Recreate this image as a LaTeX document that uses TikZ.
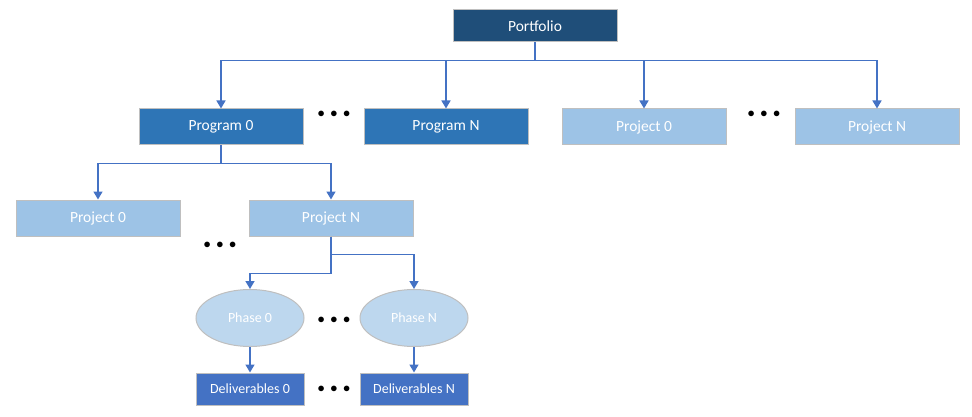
\documentclass[tikz,border=0pt]{standalone}
\usepackage{fontspec}
\setmainfont{Carlito}
\usetikzlibrary{arrows.meta,shapes.geometric}
\definecolor{portblue}{HTML}{1F4E79}
\definecolor{progblue}{HTML}{2E75B6}
\definecolor{projblue}{HTML}{9DC3E6}
\definecolor{phaseblue}{HTML}{BDD7EE}
\definecolor{delivblue}{HTML}{4472C4}
\definecolor{edgegray}{HTML}{BFBFBF}
\definecolor{linkblue}{HTML}{4472C4}
\tikzset{
  box/.style={draw=edgegray, line width=1pt, text=white, inner sep=0pt,
    minimum width=164pt, minimum height=36pt, font=\fontsize{15.5}{18}\selectfont},
  portbox/.style={box, fill=portblue, minimum height=32pt},
  progbox/.style={box, fill=progblue},
  projbox/.style={box, fill=projblue},
  phasebox/.style={ellipse, draw=edgegray, line width=1pt, fill=phaseblue, text=white,
    inner sep=0pt, minimum width=108pt, minimum height=57pt, font=\fontsize{14}{16}\selectfont},
  delivbox/.style={box, fill=delivblue, minimum width=108pt, minimum height=32pt,
    font=\fontsize{14}{16}\selectfont},
  dots/.style={inner sep=0pt, font=\fontsize{14}{16}\selectfont},
  link/.style={draw=linkblue, line width=1.5pt, -{Triangle[width=9pt,length=8pt]}}
}
\begin{document}
\begin{tikzpicture}[x=1pt,y=-1pt]
\useasboundingbox (0,0) rectangle (972,417);

% top level
\node[portbox] (portfolio) at (535,26) {Portfolio};

\node[progbox] (prog0) at (221,127) {Program 0};
\node[progbox] (progN) at (446,127) {Program N};
\node[projbox] (topproj0) at (644,127) {Project 0};
\node[projbox] (topprojN) at (877,127) {Project N};
\node[dots] (dotsA) at (334,114) {$\bullet\,\bullet\,\bullet$};
\node[dots] (dotsB) at (764,114) {$\bullet\,\bullet\,\bullet$};

\draw[link] (portfolio.south) -- ++(0,18) -| (prog0.north);
\draw[link] (portfolio.south) -- ++(0,18) -| (progN.north);
\draw[link] (portfolio.south) -- ++(0,18) -| (topproj0.north);
\draw[link] (portfolio.south) -- ++(0,18) -| (topprojN.north);

% projects of program 0
\node[projbox] (proj0) at (98,218) {Project 0};
\node[projbox] (projN) at (331,218) {Project N};
\node[dots] (dotsC) at (220,245) {$\bullet\,\bullet\,\bullet$};

\draw[link] (prog0.south) -- ++(0,18) -| (proj0.north);
\draw[link] (prog0.south) -- ++(0,18) -| (projN.north);

% phases and deliverables
\node[phasebox] (phase0) at (250,318) {Phase 0};
\node[phasebox] (phaseN) at (414,318) {Phase N};
\node[dots] (dotsD) at (334,320) {$\bullet\,\bullet\,\bullet$};

\draw[link] (projN.south) -- ++(0,37) -| (phase0.north);
\draw[link] (projN.south) -- ++(0,18) -| (phaseN.north);

\node[delivbox] (deliv0) at (250,389) {Deliverables 0};
\node[delivbox] (delivN) at (414,389) {Deliverables N};
\node[dots] (dotsE) at (334,389) {$\bullet\,\bullet\,\bullet$};

\draw[link] (phase0.south) -- (deliv0.north);
\draw[link] (phaseN.south) -- (delivN.north);
\end{tikzpicture}
\end{document}
